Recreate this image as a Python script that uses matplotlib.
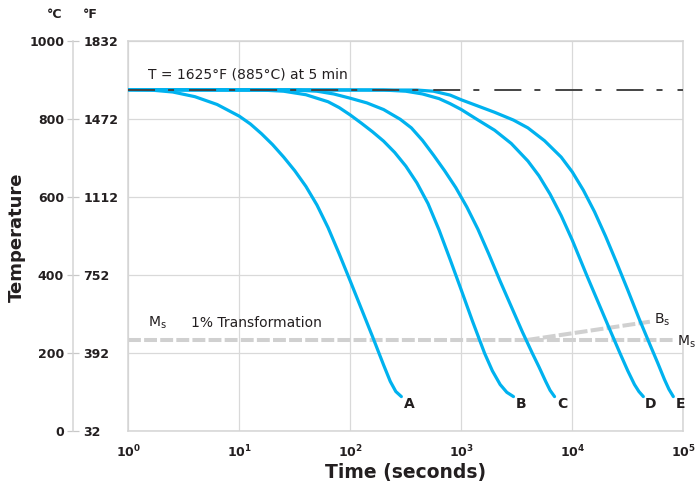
import numpy as np
import matplotlib
matplotlib.use('Agg')
import matplotlib.pyplot as plt

plt.rcParams['font.family'] = ['DejaVu Sans']
plt.rcParams['mathtext.default'] = 'regular'

# ---- data ----
# cooling curves: log10(time in s) and temperature (degC)
a_logt = [0, 0.2, 0.4, 0.6, 0.8, 1.0, 1.1, 1.2, 1.3, 1.4, 1.5, 1.6, 1.7, 1.8, 1.9,
          2.0, 2.1, 2.2, 2.3, 2.36, 2.41, 2.46]
a_temp = [876, 875, 870, 858, 838, 808, 788, 763, 735, 703, 668, 628, 580, 522, 455,
          385, 314, 243, 170, 128, 102, 89]

b_logt = [0, 1.2, 1.4, 1.6, 1.8, 1.9, 2.0, 2.1, 2.2, 2.3, 2.4, 2.5, 2.6, 2.7, 2.8,
          2.9, 3.0, 3.1, 3.21, 3.28, 3.35, 3.41, 3.47]
b_temp = [876, 875, 872, 863, 845, 830, 811, 790, 768, 744, 715, 680, 637, 584, 516,
          440, 362, 283, 200, 155, 120, 100, 89]

c_logt = [0, 1.5, 1.7, 1.85, 2.0, 2.15, 2.3, 2.45, 2.55, 2.65, 2.75, 2.85, 2.95, 3.05,
          3.15, 3.25, 3.35, 3.45, 3.55, 3.64, 3.7, 3.76, 3.8, 3.84]
c_temp = [876, 875, 872, 865, 854, 842, 825, 800, 778, 746, 708, 668, 625, 575,
          518, 453, 385, 320, 255, 200, 165, 128, 105, 89]

d_logt = [0, 2.3, 2.5, 2.65, 2.8, 2.9, 3.0, 3.14, 3.3, 3.45, 3.6, 3.7, 3.8, 3.9,
          4.0, 4.13, 4.23, 4.33, 4.43, 4.5, 4.56, 4.6, 4.64]
d_temp = [876, 875, 872, 865, 853, 840, 825, 800, 772, 738, 693, 655, 608, 553,
          490, 400, 333, 266, 200, 155, 120, 102, 89]

e_logt = [0, 2.6, 2.75, 2.9, 3.0, 3.15, 3.3, 3.47, 3.6, 3.75, 3.9, 4.0, 4.1, 4.2,
          4.3, 4.4, 4.5, 4.6, 4.7, 4.77, 4.83, 4.87, 4.91]
e_temp = [876, 875, 872, 862, 850, 834, 818, 798, 778, 745, 703, 665, 618, 563,
          500, 432, 362, 290, 222, 175, 133, 108, 89]

curves = [('A', a_logt, a_temp), ('B', b_logt, b_temp), ('C', c_logt, c_temp),
          ('D', d_logt, d_temp), ('E', e_logt, e_temp)]

hold_temp = 876
ms_time = [1, 81000]
ms_temp = [234, 234]
bs_time = [3900, 50000]
bs_temp = [234, 281]

c_ticks = [0, 200, 400, 600, 800, 1000]
f_ticks = ['32', '392', '752', '1112', '1472', '1832']
x_exps = [0, 1, 2, 3, 4, 5]

blue = '#00b2ef'
grey = '#d0d0d0'
dark = '#231f20'

fig = plt.figure(figsize=(6.95, 4.83), dpi=100)
W, H = 695, 483
ax = fig.add_axes([128.3 / W, 51.7 / H, 555 / W, 390 / H])

ax.set_xscale('log')
ax.set_xlim(1, 1e5)
ax.set_ylim(0, 1000)
ax.set_xticks([10 ** k for k in x_exps])
ax.set_xticklabels([r'$\mathbf{10^{%d}}$' % k for k in x_exps])
ax.xaxis.set_minor_locator(matplotlib.ticker.NullLocator())
ax.set_yticks(c_ticks)
ax.tick_params(axis='y', length=0, labelleft=False)
ax.tick_params(axis='x', length=0, pad=9, labelsize=9, labelcolor=dark)
ax.grid(True, color='#d9d9d9', lw=0.9)
ax.set_axisbelow(True)
for s in ax.spines.values():
    s.set_color('#d4d4d4')
    s.set_linewidth(1.1)

# Ms / Bs lines
ax.plot(ms_time, ms_temp, color=grey, lw=2.9, ls=(0, (3.2, 0.8)), zorder=2)
ax.plot(bs_time, bs_temp, color=grey, lw=2.9, ls=(0, (3.2, 0.8)), zorder=2)

for name, lt, T in curves:
    t = 10 ** np.array(lt)
    ax.plot(t, T, color=blue, lw=2.3, solid_capstyle='round',
            solid_joinstyle='round', zorder=3)
    ax.annotate(name, (t[-1], T[-1]), xytext=(5.5, -5.5), textcoords='offset points',
                ha='center', va='center', fontsize=10, fontweight='bold', color=dark)

ax.plot([1, 1e5], [hold_temp, hold_temp], color='#444444', lw=1.4,
        ls=(0, (13.9, 6.7, 3.1, 7.7)), zorder=4)

ax.text(1.5, 916, 'T = 1625°F (885°C) at 5 min', fontsize=10, color=dark,
        ha='left', va='center')
ax.text(1.5, 277, r'M$_s$', fontsize=10, color=dark, ha='left', va='center')
ax.text(3.65, 277, '1% Transformation', fontsize=10, color=dark, ha='left', va='center')
ax.text(55000, 287, r'B$_s$', fontsize=10, color=dark, ha='left', va='center')
ax.text(88000, 230, r'M$_s$', fontsize=10, color=dark, ha='left', va='center',
        clip_on=False)

ax.set_xlabel('Time (seconds)', fontsize=13.5, fontweight='bold', color=dark, labelpad=2)

# separate degC / degF scale on the left
sc = fig.add_axes([72.7 / W, 51.7 / H, 0.0001, 390 / H])
sc.set_ylim(0, 1000)
sc.set_xticks([])
sc.set_yticks(c_ticks)
sc.set_yticklabels([str(v) for v in c_ticks])
for k in ['top', 'bottom', 'right']:
    sc.spines[k].set_visible(False)
sc.spines['left'].set_color('#d4d4d4')
sc.spines['left'].set_linewidth(1.1)
sc.tick_params(axis='y', direction='inout', length=8.4, width=0.9, color='#c8c8c8',
               pad=2, labelsize=9, labelcolor=dark)
for lab in sc.get_yticklabels():
    lab.set_fontweight('bold')
sf = sc.twinx()
sf.set_ylim(0, 1000)
sf.set_yticks(c_ticks)
sf.set_yticklabels(f_ticks)
for k in ['top', 'bottom', 'right', 'left']:
    sf.spines[k].set_visible(False)
sf.tick_params(axis='y', length=0, pad=7.6, labelsize=9, labelcolor=dark)
for lab in sf.get_yticklabels():
    lab.set_fontweight('bold')

fig.text(62 / W, 1 - 14 / H, '°C', ha='right', va='center', fontsize=9,
         fontweight='bold', color=dark)
fig.text(83 / W, 1 - 14 / H, '°F', ha='left', va='center', fontsize=9,
         fontweight='bold', color=dark)
fig.text(16.7 / W, 1 - 237 / H, 'Temperature', rotation=90, ha='center', va='center',
         fontsize=13, fontweight='bold', color=dark)

fig.savefig('out.png', dpi=100)
